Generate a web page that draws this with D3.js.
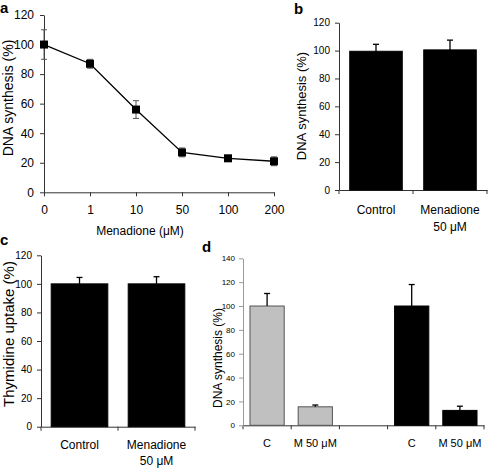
<!DOCTYPE html>
<html><head><meta charset="utf-8">
<script src="https://cdn.jsdelivr.net/npm/d3@7"></script>
<style>
html,body{margin:0;padding:0;background:#fff;}
svg{display:block;font-family:"Liberation Sans",Arial,sans-serif;}
</style></head>
<body><svg id="chart" width="488" height="468"></svg>
<script>
// ---- data ----
const aDoses = ["0", "1", "10", "50", "100", "200"];
const aValues = [100, 87, 56, 27, 23, 21];
const aErrors = [10, 3, 6, 3, 2, 3];
const aYTicks = [0, 20, 40, 60, 80, 100, 120];

const bCategories = ["Control", "Menadione|50 μM"];
const bValues = [99.5, 100.5];
const bErrors = [5, 7];
const bYTicks = [0, 20, 40, 60, 80, 100, 120];

const cCategories = ["Control", "Menadione|50 μM"];
const cValues = [100, 100];
const cErrors = [4.5, 5];
const cYTicks = [0, 20, 40, 60, 80, 100, 120];

const dSlots = ["g1", "g2", "gap", "k1", "k2"];
const dLabels = ["C", "M 50 μM", "", "C", "M 50 μM"];
const dValues = [100, 15.5, null, 100, 12.5];
const dErrors = [10.5, 1.5, null, 18, 3.5];
const dColors = ["#c0c0c0", "#c0c0c0", null, "#000000", "#000000"];
const dYTicks = [0, 20, 40, 60, 80, 100, 120, 140];

const svg = d3.select("#chart");
const AX = "#333";

function letter(x, y, t) {
  svg.append("text").attr("x", x).attr("y", y).attr("font-size", 15).attr("font-weight", "bold").text(t);
}

// ---------- Panel a ----------
{
  const x = d3.scalePoint().domain(aDoses).range([44, 274]);
  const y = d3.scaleLinear().domain([0, 120]).range([192.3, 15]);
  const g = svg.append("g");
  g.append("g").attr("transform", "translate(0,192.3)")
    .call(d3.axisBottom(x).tickSize(4).tickSizeOuter(0).tickPadding(9))
    .call(s => { s.select(".domain").attr("stroke", AX); s.selectAll("line").attr("stroke", AX); s.selectAll("text").attr("font-size", 12).attr("font-family", "inherit").attr("fill", "#000"); });
  g.append("g").attr("transform", "translate(44,0)")
    .call(d3.axisLeft(y).tickValues(aYTicks).tickSize(4).tickSizeOuter(0).tickPadding(6))
    .call(s => { s.select(".domain").attr("stroke", AX); s.selectAll("line").attr("stroke", AX); s.selectAll("text").attr("font-size", 12).attr("font-family", "inherit").attr("fill", "#000"); });
  const pts = aDoses.map((d, i) => ({ d, v: aValues[i], e: aErrors[i] }));
  const eb = g.append("g").attr("stroke", "#555").attr("stroke-width", 1);
  pts.forEach(p => {
    const cx = x(p.d);
    eb.append("line").attr("x1", cx).attr("x2", cx).attr("y1", y(p.v - p.e)).attr("y2", y(p.v + p.e));
    [p.v - p.e, p.v + p.e].forEach(v => eb.append("line").attr("x1", cx - 3).attr("x2", cx + 3).attr("y1", y(v)).attr("y2", y(v)));
  });
  g.append("path").datum(pts).attr("fill", "none").attr("stroke", "#000").attr("stroke-width", 1.3)
    .attr("d", d3.line().x(p => x(p.d)).y(p => y(p.v)));
  g.selectAll("rect.m").data(pts).join("rect").attr("x", p => x(p.d) - 4).attr("y", p => y(p.v) - 4)
    .attr("width", 8).attr("height", 8).attr("fill", "#000");
  g.append("text").attr("x", 140).attr("y", 235).attr("text-anchor", "middle").attr("font-size", 12).text("Menadione (μM)");
  g.append("text").attr("transform", "translate(13,98) rotate(-90)").attr("text-anchor", "middle").attr("font-size", 14).text("DNA synthesis (%)");
  letter(0, 13, "a");
}

function barPanel(cfg) {
  const x = d3.scaleBand().domain(cfg.cats).range(cfg.xr).paddingInner(cfg.pad).paddingOuter(cfg.pad / 2);
  const y = d3.scaleLinear().domain([0, cfg.ymax]).range(cfg.yr);
  const g = svg.append("g");
  g.append("g").attr("transform", `translate(0,${cfg.yr[0]})`)
    .call(d3.axisBottom(x).tickSize(0).tickFormat(""))
    .call(s => { s.select(".domain").attr("stroke", AX); });
  const bounds = [cfg.xr[0]].concat(cfg.cats.map(c => x(c) + x.bandwidth() + x.step() * cfg.pad / 2));
  bounds.forEach(bx => g.append("line").attr("x1", bx).attr("x2", bx).attr("y1", cfg.yr[0]).attr("y2", cfg.yr[0] + 4).attr("stroke", AX));
  g.append("g").attr("transform", `translate(${cfg.xr[0]},0)`)
    .call(d3.axisLeft(y).tickValues(cfg.ticks).tickSize(4).tickSizeOuter(0).tickPadding(cfg.tickPad || 5))
    .call(s => { s.select(".domain").attr("stroke", cfg.yAxisColor || AX); s.selectAll("line").attr("stroke", cfg.yAxisColor || AX); s.selectAll("text").attr("font-size", cfg.tickFont).attr("font-family", "inherit").attr("fill", "#000"); });
  cfg.cats.forEach((c, i) => {
    const v = cfg.values[i];
    if (v == null) return;
    const bx = x(c), bw = x.bandwidth();
    g.append("rect").attr("x", bx).attr("y", y(v)).attr("width", bw).attr("height", y(0) - y(v))
      .attr("fill", cfg.colors ? cfg.colors[i] : "#000").attr("stroke", cfg.colors && cfg.colors[i] !== "#000000" ? "#555" : "#000").attr("stroke-width", 1);
    const cx = bx + bw / 2, top = y(v + cfg.errors[i]);
    g.append("line").attr("x1", cx).attr("x2", cx).attr("y1", y(v)).attr("y2", top).attr("stroke", "#000").attr("stroke-width", 1.3);
    g.append("line").attr("x1", cx - 3).attr("x2", cx + 3).attr("y1", top).attr("y2", top).attr("stroke", "#000").attr("stroke-width", 1.3);
    const lab = cfg.labels ? cfg.labels[i] : c;
    lab.split("|").forEach((t, k) => {
      g.append("text").attr("x", cx).attr("y", cfg.labelY + k * cfg.lineH).attr("text-anchor", "middle")
        .attr("font-size", cfg.labelFont).text(t);
    });
  });
  g.append("text").attr("transform", `translate(${cfg.ylabX},${cfg.ylabY}) rotate(-90)`).attr("text-anchor", "middle")
    .attr("font-size", cfg.ylabFont).text(cfg.ylab);
}

barPanel({ cats: bCategories, values: bValues, errors: bErrors, xr: [339, 487], yr: [190, 22.7], ymax: 120, pad: 0.29,
  ticks: bYTicks, tickFont: 10, labelY: 214, lineH: 17, labelFont: 12, ylab: "DNA synthesis (%)", ylabX: 306, ylabY: 106, ylabFont: 13 });
letter(294, 14, "b");

barPanel({ cats: cCategories, values: cValues, errors: cErrors, xr: [41, 195], yr: [426.7, 255.3], ymax: 120, pad: 0.265,
  ticks: cYTicks, tickFont: 10, labelY: 449, lineH: 16, labelFont: 12, ylab: "Thymidine uptake (%)", ylabX: 14, ylabY: 334, ylabFont: 15 });
letter(0, 245, "c");

barPanel({ cats: dSlots, labels: dLabels, values: dValues, errors: dErrors, colors: dColors, xr: [243, 484], yr: [425.3, 258.3], ymax: 140, pad: 0.29,
  ticks: dYTicks, tickFont: 8, tickPad: 4, labelY: 447, lineH: 12, labelFont: 11, ylab: "DNA synthesis (%)", ylabX: 222, ylabY: 358, ylabFont: 12, yAxisColor: "#999" });
letter(202, 252, "d");
</script></body></html>
